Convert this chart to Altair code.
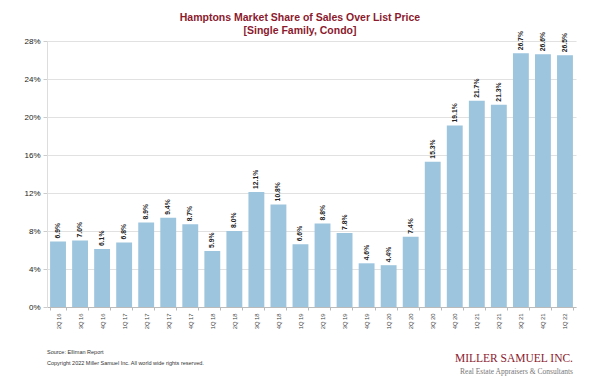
import altair as alt
import pandas as pd

quarters = ["2Q 16", "3Q 16", "4Q 16", "1Q 17", "2Q 17", "3Q 17", "4Q 17", "1Q 18",
            "2Q 18", "3Q 18", "4Q 18", "1Q 19", "2Q 19", "3Q 19", "4Q 19", "1Q 20",
            "2Q 20", "3Q 20", "4Q 20", "1Q 21", "2Q 21", "3Q 21", "4Q 21", "1Q 22"]
shares = [6.9, 7.0, 6.1, 6.8, 8.9, 9.4, 8.7, 5.9, 8.0, 12.1, 10.8, 6.6,
          8.8, 7.8, 4.6, 4.4, 7.4, 15.3, 19.1, 21.7, 21.3, 26.7, 26.6, 26.5]
y_ticks = [0, 4, 8, 12, 16, 20, 24, 28]

title_line1 = "Hamptons Market Share of Sales Over List Price"
title_line2 = "[Single Family, Condo]"
source_text = "Source: Elliman Report"
copyright_text = "Copyright 2022 Miller Samuel Inc.  All world wide rights reserved."
logo_text = "MILLER SAMUEL INC."
logo_sub = "Real Estate Appraisers & Consultants"

df = pd.DataFrame({"quarter": quarters, "share": shares})
df["label"] = [f"{v:.1f}%" for v in shares]

x_axis = alt.Axis(labelAngle=-90, labelFontSize=5.8, labelColor="#444444",
                  labelFont="Liberation Sans", labelPadding=3,
                  labelAlign="right", labelBaseline="middle",
                  domainColor="#bbbbbb", tickColor="#bbbbbb", tickSize=3,
                  tickBand="extent", grid=False)
x_scale = alt.Scale(paddingInner=0.28, paddingOuter=0.14)
y_axis = alt.Axis(values=y_ticks, labelExpr="datum.value + '%'", labelOverlap=False,
                  labelFontSize=8, labelColor="#222222", labelFont="Liberation Sans",
                  labelPadding=3, tickSize=4, tickColor="#cccccc",
                  domainColor="#dddddd", gridColor="#d9d9d9", gridWidth=0.8)
y_scale = alt.Scale(domain=[0, 28], nice=False)

x_enc = alt.X("quarter:N", sort=quarters, title=None, scale=x_scale, axis=x_axis)
y_enc = alt.Y("share:Q", title=None, scale=y_scale, axis=y_axis)

bars = alt.Chart(df).mark_bar(color="#9dc5de").encode(x=x_enc, y=y_enc)

labels = alt.Chart(df).mark_text(angle=270, align="left", baseline="middle", dx=3,
                                 fontSize=6.8, fontWeight="bold", color="#222222",
                                 font="Liberation Sans").encode(
    x=x_enc, y=y_enc, text="label:N")

foot = pd.DataFrame({"t": [0]})

def note(txt, x, y, align, size, color, font, weight="normal"):
    return alt.Chart(foot).mark_text(align=align, baseline="alphabetic", fontSize=size,
                                     color=color, font=font, fontWeight=weight).encode(
        x=alt.value(x), y=alt.value(y), text=alt.value(txt))

t1 = note(title_line1, 253, -20, "center", 10.5, "#8b1a2e", "Liberation Sans", "bold")
t2 = note(title_line2, 253, -7, "center", 10.5, "#8b1a2e", "Liberation Sans", "bold")
src = note(source_text, 0, 313, "left", 5.5, "#333333", "Liberation Sans")
cpy = note(copyright_text, 0, 324, "left", 5.5, "#333333", "Liberation Sans")
logo = note(logo_text, 526, 321, "right", 11.5, "#8b1a2e", "Liberation Serif")
logo2 = note(logo_sub, 526, 333, "right", 7.5, "#777777", "Liberation Serif")

chart = alt.layer(bars, labels, t1, t2, src, cpy, logo, logo2).properties(
    width=529, height=266,
    padding={"left": 39, "top": 33, "right": 16, "bottom": 70},
    autosize=alt.AutoSizeParams(type="none"),
    background="white",
).configure_view(stroke=None)

chart.save("out.html", embed_options={"renderer": "svg", "actions": False})
